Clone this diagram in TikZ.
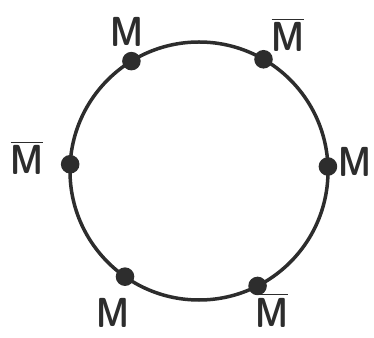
\documentclass[tikz,border=0pt]{standalone}
\usepackage{amsmath}
\usepackage{xcolor}
\usepackage{tikz}
\usetikzlibrary{calc}
\definecolor{trazo}{RGB}{45,45,45}
\newcommand{\Mbar}{$\overline{\text{M}}$}

\begin{document}
\begin{tikzpicture}[x=1pt, y=1pt, line width=3.5pt, trazo]
    \useasboundingbox (0,0) rectangle (374,337);
    \coordinate (O) at (199,166);
    \draw (O) circle (129);
    \foreach \ang/\nom in {121.6/pa, 60/pb, 177/pc, 2/pd, 235/pe, 297/pf}
        \coordinate (\nom) at ($(O)+(\ang:129)$);
    \foreach \nom in {pa,pb,pc,pd,pe,pf}
        \filldraw (\nom) circle (7.5);
    \tikzset{etiq/.style={anchor=base, inner sep=0pt, xscale=0.8, transform shape,
        font=\sffamily\bfseries\fontsize{42}{42}\selectfont}}
    \node[etiq] (la) at (127,290){M};
    \node[etiq] (lb) at (288,285){\Mbar};
    \node[etiq] (lc) at (27,162){\Mbar};
    \node[etiq] (ld) at (355,160){M};
    \node[etiq] (le) at (113,10){M};
    \node[etiq] (lf) at (272,10){\Mbar};
\end{tikzpicture}
\end{document}
